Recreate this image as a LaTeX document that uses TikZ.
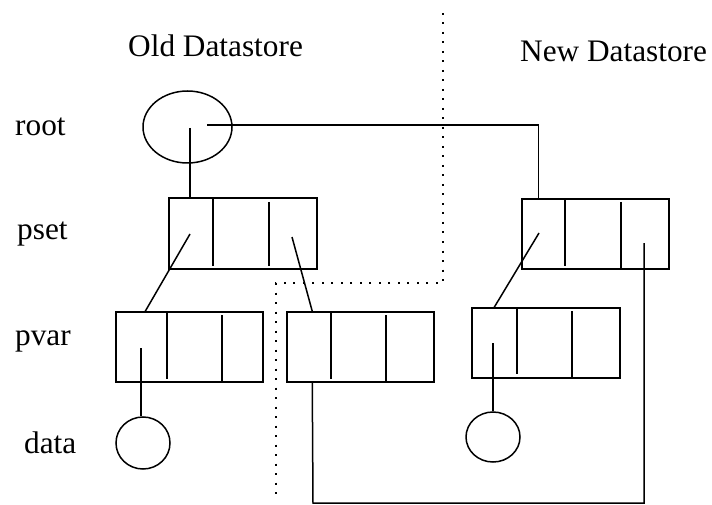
\documentclass[tikz,border=0pt]{standalone}
\usepackage{fontspec}
\setmainfont{Liberation Serif}
\usetikzlibrary{shapes.geometric}
\begin{document}
\begin{tikzpicture}[x=1pt,y=-1pt,
  ln/.style={line width=1.5pt,line cap=butt},
  rec/.style={draw,line width=1.5pt,rectangle,inner sep=0pt,minimum width=147pt,minimum height=70pt},
  ell/.style={draw,line width=1.5pt,ellipse,inner sep=0pt},
  lbl/.style={anchor=base west,inner sep=0pt,font=\fontsize{31.3}{36}\selectfont},
  sep/.style={line width=2pt,dash pattern=on 2pt off 7.5pt}]
\useasboundingbox (0,0) rectangle (712,505);
% titles and row labels
\node[lbl] (tOld) at (128,57) {Old Datastore};
\node[lbl] (tNew) at (520,62) {New Datastore};
\node[lbl] (lRoot) at (15,136) {root};
\node[lbl] (lPset) at (17,240) {pset};
\node[lbl] (lPvar) at (15,345) {pvar};
\node[lbl] (lData) at (24,453) {data};
% separator
\coordinate (s1) at (443,13);
\coordinate (s2) at (443,283);
\coordinate (s3) at (276,283);
\coordinate (s4) at (276,498);
\draw[sep] (s1) -- (s2) -- (s3) -- (s4);
% shapes
\node[ell,minimum width=89pt,minimum height=72pt] (root) at (187.5,127) {};
\node[rec,minimum width=148pt,minimum height=71pt] (psetO) at (243,233.5) {};
\node[rec] (psetN) at (595.5,234) {};
\node[rec] (pvarO1) at (189.5,347) {};
\node[rec] (pvarO2) at (360.5,347) {};
\node[rec,minimum width=148pt] (pvarN) at (546,343) {};
\node[ell,minimum width=54pt,minimum height=52pt] (dataO) at (143,443) {};
\node[ell,minimum width=54pt,minimum height=50pt] (dataN) at (493,437) {};
% cell dividers
\draw[ln] (213,198) -- (213,266) (269,202) -- (269,266);
\draw[ln] (565,199) -- (565,266) (621,202) -- (621,268);
\draw[ln] (167,312) -- (167,379) (222,315) -- (222,381);
\draw[ln] (331,312) -- (331,379) (386,315) -- (386,381);
\draw[ln] (517,308) -- (517,374) (572,311) -- (572,378);
% pointer origins
\coordinate (r0) at (190,128);
\coordinate (r1) at (207,125);
\coordinate (pO1) at (190,234);
\coordinate (pO3) at (292,237);
\coordinate (pN1) at (539,233);
\coordinate (pN3) at (644,243);
\coordinate (vO1) at (141,348);
\coordinate (vN1) at (493,343);
\coordinate (bot) at (313,503);
% connectors
\draw[ln] (r0) -- (r0 |- psetO.north);
\draw[ln] (r1) -| ([xshift=17pt]psetN.north west);
\draw[ln] (pO1) -- ([xshift=30pt]pvarO1.north west);
\draw[ln] (pO3) -- ([xshift=26pt]pvarO2.north west);
\draw[ln] (pN1) -- ([xshift=23pt]pvarN.north west);
\draw[ln] (pN3) |- (bot) -- ([xshift=26pt]pvarO2.south west);
\draw[ln] (vO1) -- (vO1 |- dataO.north);
\draw[ln] (vN1) -- (vN1 |- dataN.north);
\end{tikzpicture}
\end{document}
